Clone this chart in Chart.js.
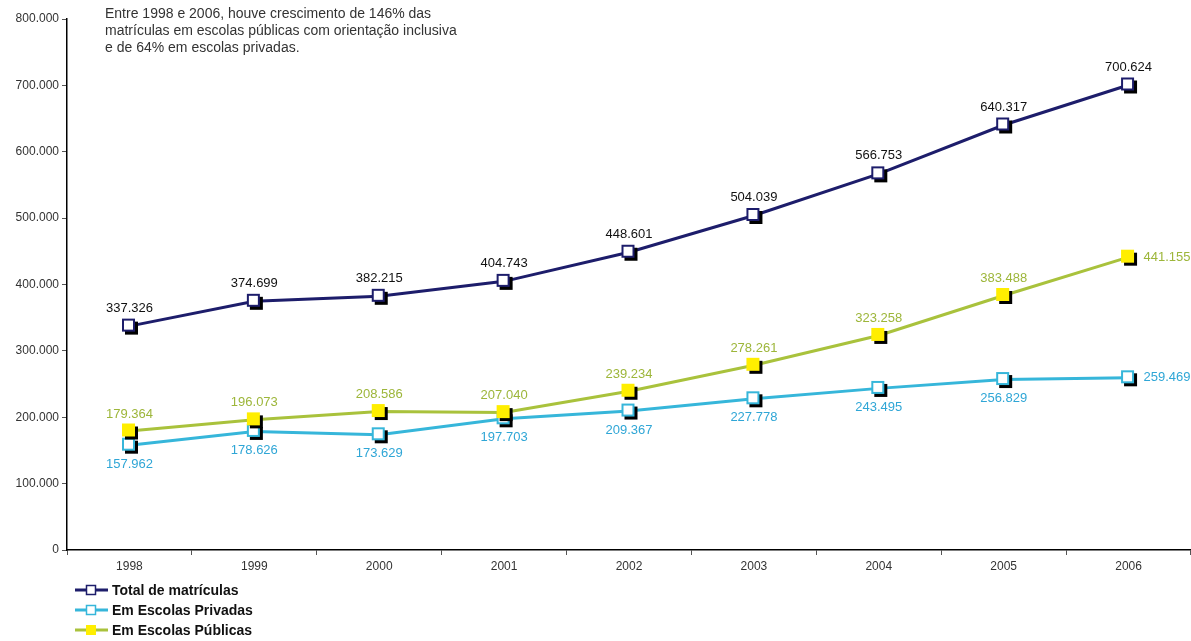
<!DOCTYPE html>
<html lang="pt-BR">
<head>
<meta charset="utf-8">
<title>Matrículas em escolas com orientação inclusiva</title>
<script src="https://cdn.jsdelivr.net/npm/chart.js@4.4.1/dist/chart.umd.min.js"></script>
<style>
  html, body { margin: 0; padding: 0; background: #fff; }
  #wrap { position: relative; width: 1191px; height: 641px; }
</style>
</head>
<body>
<div id="wrap"><canvas id="linhas"></canvas></div>
<script>
const anos = ["1998", "1999", "2000", "2001", "2002", "2003", "2004", "2005", "2006"];
const totalMatriculas = [337326, 374699, 382215, 404743, 448601, 504039, 566753, 640317, 700624];
const escolasPrivadas = [157962, 178626, 173629, 197703, 209367, 227778, 243495, 256829, 259469];
const escolasPublicas = [179364, 196073, 208586, 207040, 239234, 278261, 323258, 383488, 441155];
const nota = [
  "Entre 1998 e 2006, houve crescimento de 146% das",
  "matrículas em escolas públicas com orientação inclusiva",
  "e de 64% em escolas privadas.",
];

const FONT = "'Liberation Sans', Arial, sans-serif";
const NAVY = "#1d1d6b";
const CYAN = "#36b6da";
const OLIVE = "#a9c23c";

function formatNumber(value) {
  return String(value).replace(/\B(?=(\d{3})+(?!\d))/g, ".");
}

// square marker with a black drop shadow, used as pointStyle image
function makeMarker(fill, stroke, size) {
  const c = document.createElement("canvas");
  c.width = size + 10;
  c.height = size + 10;
  const ctx = c.getContext("2d");
  ctx.fillStyle = "#000";
  ctx.fillRect(7, 7, size, size);
  ctx.fillStyle = fill;
  ctx.fillRect(4, 4, size, size);
  if (stroke) {
    ctx.strokeStyle = stroke;
    ctx.lineWidth = 2;
    ctx.strokeRect(5, 5, size - 2, size - 2);
  }
  return c;
}

const labelPlugin = {
  id: "valores",
  afterDatasetsDraw(chart) {
    const ctx = chart.ctx;
    ctx.save();
    ctx.font = "13px " + FONT;
    ctx.textBaseline = "middle";
    chart.data.datasets.forEach((ds, i) => {
      const meta = chart.getDatasetMeta(i);
      meta.data.forEach((pt, j) => {
        const text = formatNumber(ds.data[j]);
        ctx.fillStyle = ds.labelColor;
        const last = j === ds.data.length - 1;
        if (ds.labelPos === "above") {
          ctx.textAlign = "center";
          ctx.fillText(text, pt.x, pt.y - ds.labelGap);
        } else if (last) {
          ctx.textAlign = "left";
          ctx.fillText(text, pt.x + 15, pt.y);
        } else if (ds.labelPos === "top") {
          ctx.textAlign = "center";
          ctx.fillText(text, pt.x, pt.y - ds.labelGap);
        } else {
          ctx.textAlign = "center";
          ctx.fillText(text, pt.x, pt.y + ds.labelGap);
        }
      });
    });
    ctx.restore();
  },
  afterDraw(chart) {
    const ctx = chart.ctx;
    ctx.save();
    // nota no topo
    ctx.font = "14px " + FONT;
    ctx.fillStyle = "#333";
    ctx.textAlign = "left";
    ctx.textBaseline = "middle";
    nota.forEach((linha, i) => {
      ctx.fillText(linha, 105, 14 + i * 17);
    });
    // legenda vertical
    ctx.font = "bold 14px " + FONT;
    chart.data.datasets
      .slice()
      .sort((a, b) => a.legendIndex - b.legendIndex)
      .forEach((ds, i) => {
        const y = 590 + i * 20;
        ctx.strokeStyle = ds.borderColor;
        ctx.lineWidth = 3;
        ctx.beginPath();
        ctx.moveTo(75, y);
        ctx.lineTo(108, y);
        ctx.stroke();
        ctx.fillStyle = ds.legendFill;
        ctx.fillRect(86, y - 5, 10, 10);
        if (ds.legendStroke) {
          ctx.strokeStyle = ds.legendStroke;
          ctx.lineWidth = 1.5;
          ctx.strokeRect(86.5, y - 4.5, 9, 9);
        }
        ctx.fillStyle = "#111";
        ctx.fillText(ds.label, 112, y + 1);
      });
    ctx.restore();
  },
};

function renderLineChart() {
  const context = document.querySelector("#linhas").getContext("2d");
  const data = {
    labels: anos,
    datasets: [
      {
        label: "Total de matrículas",
        data: totalMatriculas,
        borderColor: NAVY,
        borderWidth: 3,
        pointStyle: makeMarker("#fff", NAVY, 13),
        labelColor: "#111",
        labelPos: "above",
        labelGap: 18,
        legendIndex: 0,
        legendFill: "#fff",
        legendStroke: NAVY,
        order: 0,
      },
      {
        label: "Em Escolas Privadas",
        data: escolasPrivadas,
        borderColor: CYAN,
        borderWidth: 3,
        pointStyle: makeMarker("#fff", CYAN, 13),
        labelColor: "#2fa6d6",
        labelPos: "below",
        labelGap: 19,
        legendIndex: 1,
        legendFill: "#fff",
        legendStroke: CYAN,
        order: 2,
      },
      {
        label: "Em Escolas Públicas",
        data: escolasPublicas,
        borderColor: OLIVE,
        borderWidth: 3,
        pointStyle: makeMarker("#ffee00", null, 13),
        labelColor: "#9db63a",
        labelPos: "top",
        labelGap: 17,
        legendIndex: 2,
        legendFill: "#ffee00",
        legendStroke: null,
        order: 1,
      },
    ],
  };
  new Chart(context, {
    type: "line",
    data: data,
    plugins: [labelPlugin],
    options: {
      responsive: true,
      maintainAspectRatio: false,
      animation: false,
      layout: { autoPadding: false, padding: { top: 19, right: 0, left: 0, bottom: 0 } },
      elements: {
        line: { tension: 0, fill: false },
        point: { radius: 8, hoverRadius: 8 },
      },
      plugins: {
        legend: { display: false },
        tooltip: { enabled: false },
        title: { display: false },
      },
      scales: {
        x: {
          offset: true,
          grid: {
            offset: true,
            drawOnChartArea: false,
            tickLength: 5,
            color: "#555",
          },
          border: { color: "#000", width: 1.5 },
          ticks: {
            font: { family: FONT, size: 12 },
            color: "#333",
            padding: 4,
          },
          afterFit(scale) {
            scale.height = 91;
          },
        },
        y: {
          min: 0,
          max: 800000,
          grid: {
            drawOnChartArea: false,
            tickLength: 5,
            color: "#555",
          },
          border: { color: "#000", width: 1.5 },
          ticks: {
            stepSize: 100000,
            font: { family: FONT, size: 12 },
            color: "#333",
            padding: 3,
            callback: (value) => formatNumber(value),
          },
          afterFit(scale) {
            scale.width = 67;
          },
        },
      },
    },
  });
}

renderLineChart();
</script>
</body>
</html>
